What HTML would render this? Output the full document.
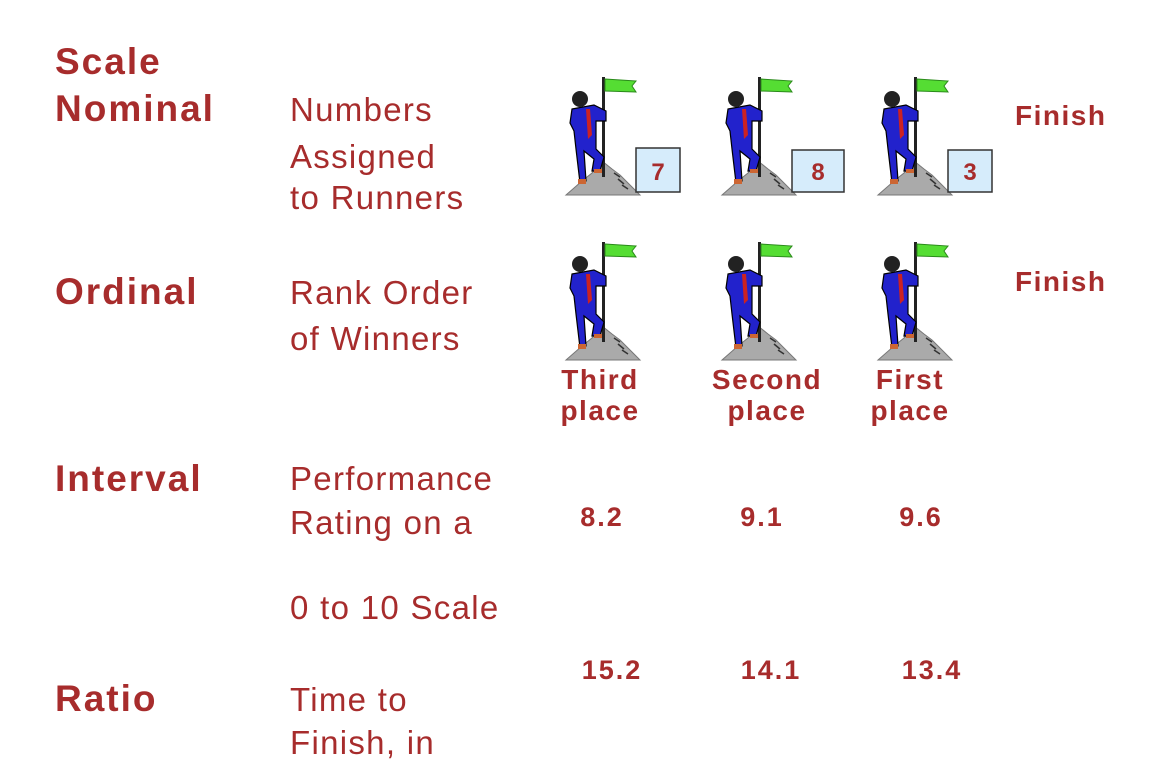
<!DOCTYPE html>
<html><head><meta charset="utf-8"><style>
body{margin:0;width:1172px;height:772px;background:#fff;overflow:hidden;position:relative;font-family:"Liberation Sans",Arial,sans-serif;color:#a72c2c}
.t{position:absolute;white-space:nowrap;line-height:1}
.h{font-weight:bold;font-size:37px;letter-spacing:2px}
.m{font-size:33px;letter-spacing:1.3px}
.f{font-weight:bold;font-size:28px;letter-spacing:1.5px}
.n{font-weight:bold;font-size:27px;text-align:center;width:120px;letter-spacing:2px}
svg{position:absolute;left:0;top:0}
</style></head><body>
<svg width="1172" height="772">
<defs>
<g id="climber">
<path d="M0,120 L16,106 L26,98 L36,86 L46,94 L54,100 L62,108 L74,120 Z" fill="#aaa" stroke="#777"/>
<path d="M48,98 l6,4 M52,104 l6,5 M56,110 l6,4" stroke="#333" stroke-width="1.5"/>
<rect x="36" y="2" width="3" height="100" fill="#222"/>
<path d="M39,4 L70,6 L66,11 L70,17 L39,16 Z" fill="#55dd33" stroke="#2a8a1a"/>
<path d="M6,34 L28,30 L40,36 L40,46 L30,46 L30,74 L38,82 L34,96 L26,96 L28,84 L18,76 L20,106 L14,108 L10,74 L8,56 L4,48 Z" fill="#2222cc" stroke="#000" stroke-width="1.2"/>
<path d="M20,34 l4,0 l2,26 l-4,4 Z" fill="#c22"/>
<circle cx="14" cy="24" r="8" fill="#222"/>
<rect x="12" y="104" width="8" height="5" fill="#c63"/>
<rect x="28" y="94" width="8" height="4" fill="#c63"/>
</g>
</defs>
<use href="#climber" x="566" y="75"/>
<use href="#climber" x="722" y="75"/>
<use href="#climber" x="878" y="75"/>
<use href="#climber" x="566" y="240"/>
<use href="#climber" x="722" y="240"/>
<use href="#climber" x="878" y="240"/>
<g fill="#d6ecfb" stroke="#333" stroke-width="1.5">
<rect x="636" y="148" width="44" height="44"/>
<rect x="792" y="150" width="52" height="42"/>
<rect x="948" y="150" width="44" height="42"/>
</g>
<g fill="#a72c2c" font-family="Liberation Sans, Arial, sans-serif" font-weight="bold" font-size="24" text-anchor="middle">
<text x="658" y="180">7</text>
<text x="818" y="180">8</text>
<text x="970" y="180">3</text>
</g>
</svg>
<div class="t h" style="left:55px;top:43px">Scale</div>
<div class="t h" style="left:55px;top:90px">Nominal</div>
<div class="t h" style="left:55px;top:273px">Ordinal</div>
<div class="t h" style="left:55px;top:460px">Interval</div>
<div class="t h" style="left:55px;top:680px">Ratio</div>
<div class="t m" style="left:290px;top:93px">Numbers</div>
<div class="t m" style="left:290px;top:140px">Assigned</div>
<div class="t m" style="left:290px;top:181px">to Runners</div>
<div class="t m" style="left:290px;top:276px">Rank Order</div>
<div class="t m" style="left:290px;top:322px">of Winners</div>
<div class="t m" style="left:290px;top:462px">Performance</div>
<div class="t m" style="left:290px;top:506px">Rating on a</div>
<div class="t m" style="left:290px;top:591px">0 to 10 Scale</div>
<div class="t m" style="left:290px;top:683px">Time to</div>
<div class="t m" style="left:290px;top:726px">Finish, in</div>
<div class="t f" style="left:1015px;top:102px">Finish</div>
<div class="t f" style="left:1015px;top:268px">Finish</div>
<div class="t f" style="left:540px;top:366px;width:120px;text-align:center">Third<br><span style="line-height:34px">place</span></div>
<div class="t f" style="left:707px;top:366px;width:120px;text-align:center">Second<br><span style="line-height:34px">place</span></div>
<div class="t f" style="left:850px;top:366px;width:120px;text-align:center">First<br><span style="line-height:34px">place</span></div>
<div class="t n" style="left:542px;top:504px">8.2</div>
<div class="t n" style="left:702px;top:504px">9.1</div>
<div class="t n" style="left:861px;top:504px">9.6</div>
<div class="t n" style="left:552px;top:657px">15.2</div>
<div class="t n" style="left:711px;top:657px">14.1</div>
<div class="t n" style="left:872px;top:657px">13.4</div>
</body></html>
